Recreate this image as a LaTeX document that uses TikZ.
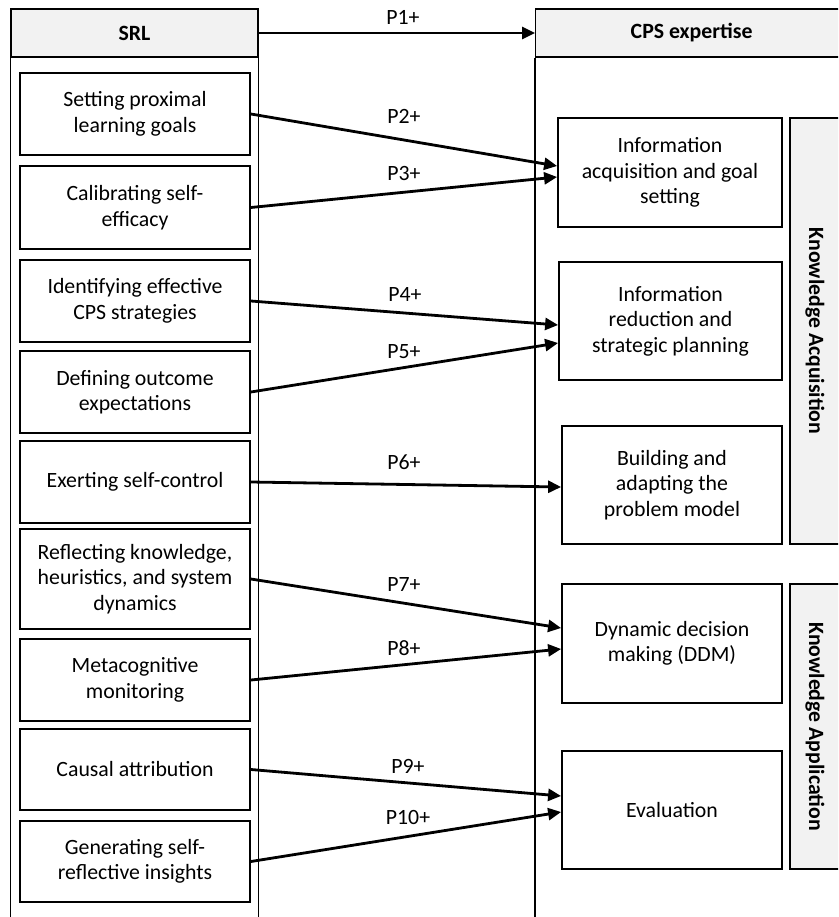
\documentclass[tikz,border=0pt]{standalone}
\usepackage{fontspec}
\setmainfont{Carlito}
\usetikzlibrary{
    arrows.meta,
    calc
}
\tikzset{
  every node/.style={
    font=\fontsize{21.8}{25.5}\selectfont,
    inner sep=1.5pt
  },
  srlbox/.style={
    draw,
    line width=1.8pt,
    align=center,
    minimum width=230pt,
    minimum height=82pt
  },
  cpsbox/.style={
    draw,
    line width=1.8pt,
    align=center,
    minimum width=220pt,
    minimum height=118pt
  },
  headbox/.style={
    draw,
    line width=1.3pt,
    fill=gray!10,
    font=\fontsize{21.8}{25.5}\selectfont\bfseries,
    minimum height=48pt
  },
  sidebar/.style={
    draw,
    line width=1.3pt,
    fill=gray!10,
    rotate=-90,
    font=\fontsize{21.8}{25.5}\selectfont\bfseries,
    minimum height=50pt
  },
  link/.style={
    line width=2.8pt,
    -{Triangle[length=13pt,width=12pt]}
  }
}

\begin{document}
\begin{tikzpicture}[x=1pt,y=-1pt]
    \clip (0,0) rectangle (838,917);

    % 見出し
    \node[headbox, minimum width=247pt] (srl) at (134.5,33) {SRL};
    \node[headbox, minimum width=312pt, anchor=west] (cps) at (535,33) {CPS expertise};
    \draw[line width=1.3pt] (srl.south west) -- (srl.south west |- 0,940);
    \draw[line width=1.3pt] (srl.south east) -- (srl.south east |- 0,940);
    \draw[line width=1.3pt] (cps.south west) -- (cps.south west |- 0,940);

    % SRL の箱
    \node[srlbox] (s1) at (135,114) {Setting proximal\\learning goals};
    \node[srlbox, minimum height=83pt] (s2) at (135,207.5) {Calibrating self-\\efficacy};
    \node[srlbox] (s3) at (135,301) {Identifying effective\\CPS strategies};
    \node[srlbox] (s4) at (135,392) {Defining outcome\\expectations};
    \node[srlbox] (s5) at (135,482) {Exerting self-control};
    \node[srlbox, minimum height=100pt] (s6) at (135,579) {Reflecting knowledge,\\heuristics, and system\\dynamics};
    \node[srlbox] (s7) at (135,680) {Metacognitive\\monitoring};
    \node[srlbox, minimum height=81pt] (s8) at (135,769.5) {Causal attribution};
    \node[srlbox, minimum height=81pt] (s9) at (135,861.5) {Generating self-\\reflective insights};

    % CPS の箱
    \node[cpsbox, minimum width=224pt, minimum height=109pt] (c1) at (670,172.5) {Information\\acquisition and goal\\setting};
    \node[cpsbox, minimum width=223pt] (c2) at (670.5,321) {Information\\reduction and\\strategic planning};
    \node[cpsbox] (c3) at (672,485) {Building and\\adapting the\\problem model};
    \node[cpsbox, minimum height=119pt] (c4) at (672,643.5) {Dynamic decision\\making (DDM)};
    \node[cpsbox] (c5) at (672,810) {Evaluation};

    % 右の帯
    \node[sidebar, minimum width=426pt] (ka) at (815,331) {Knowledge Acquisition};
    \node[sidebar, minimum width=285pt] (kp) at (815,726.5) {Knowledge Application};

    % 矢印
    \draw[link] (srl.east) -- (cps.west);
    \draw[link] (s1.east) -- ($(c1.west)+(0,-6.5)$);
    \draw[link] (s2.east) -- ($(c1.west)+(0,4.5)$);
    \draw[link] (s3.east) -- ($(c2.west)+(0,4)$);
    \draw[link] (s4.east) -- ($(c2.west)+(0,22)$);
    \draw[link] (s5.east) -- ($(c3.west)+(0,2)$);
    \draw[link] (s6.east) -- ($(c4.west)+(0,-15.5)$);
    \draw[link] (s7.east) -- ($(c4.west)+(0,5.5)$);
    \draw[link] (s8.east) -- ($(c5.west)+(0,-14)$);
    \draw[link] (s9.east) -- ($(c5.west)+(0,2)$);

    % ラベル
    \node (p1) at (403,17) {P1+};
    \node (p2) at (404,116) {P2+};
    \node (p3) at (404,174) {P3+};
    \node (p4) at (405,295) {P4+};
    \node (p5) at (404,352) {P5+};
    \node (p6) at (404,462) {P6+};
    \node (p7) at (404,585) {P7+};
    \node (p8) at (404,648) {P8+};
    \node (p9) at (408,766) {P9+};
    \node (p10) at (408,817) {P10+};
\end{tikzpicture}
\end{document}
